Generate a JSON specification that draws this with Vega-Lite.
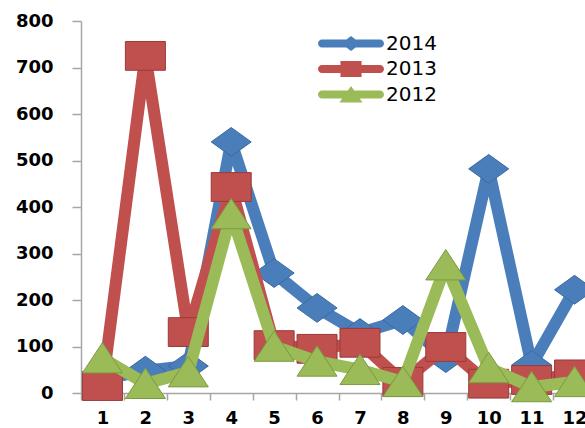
{
  "$schema": "https://vega.github.io/schema/vega-lite/v6.json",
  "width": 504,
  "height": 372,
  "autosize": "none",
  "padding": {"left": 81, "top": 21, "right": 0, "bottom": 35},
  "background": "white",
  "config": {"view": {"stroke": null}, "font": "DejaVu Sans"},
  "data": {
    "values": [
      {"month": 1, "year": "2014", "value": 30},
      {"month": 2, "year": "2014", "value": 48},
      {"month": 3, "year": "2014", "value": 58},
      {"month": 4, "year": "2014", "value": 540},
      {"month": 5, "year": "2014", "value": 258},
      {"month": 6, "year": "2014", "value": 183},
      {"month": 7, "year": "2014", "value": 129},
      {"month": 8, "year": "2014", "value": 157},
      {"month": 9, "year": "2014", "value": 75},
      {"month": 10, "year": "2014", "value": 482},
      {"month": 11, "year": "2014", "value": 60},
      {"month": 12, "year": "2014", "value": 222},
      {"month": 1, "year": "2013", "value": 15},
      {"month": 2, "year": "2013", "value": 725},
      {"month": 3, "year": "2013", "value": 131},
      {"month": 4, "year": "2013", "value": 443},
      {"month": 5, "year": "2013", "value": 103},
      {"month": 6, "year": "2013", "value": 95},
      {"month": 7, "year": "2013", "value": 108},
      {"month": 8, "year": "2013", "value": 24},
      {"month": 9, "year": "2013", "value": 99},
      {"month": 10, "year": "2013", "value": 20},
      {"month": 11, "year": "2013", "value": 28},
      {"month": 12, "year": "2013", "value": 40},
      {"month": 1, "year": "2012", "value": 75},
      {"month": 2, "year": "2012", "value": 20},
      {"month": 3, "year": "2012", "value": 45},
      {"month": 4, "year": "2012", "value": 385},
      {"month": 5, "year": "2012", "value": 100},
      {"month": 6, "year": "2012", "value": 68},
      {"month": 7, "year": "2012", "value": 50},
      {"month": 8, "year": "2012", "value": 24},
      {"month": 9, "year": "2012", "value": 275},
      {"month": 10, "year": "2012", "value": 54},
      {"month": 11, "year": "2012", "value": 13},
      {"month": 12, "year": "2012", "value": 24}
    ]
  },
  "encoding": {
    "x": {
      "field": "month",
      "type": "ordinal",
      "scale": {"range": [0, 515], "paddingInner": 0, "paddingOuter": 0},
      "axis": {
        "title": null,
        "labelAngle": 0,
        "tickBand": "extent",
        "tickSize": 7,
        "labelPadding": 9,
        "labelFontSize": 18,
        "labelFontWeight": "bold",
        "labelColor": "black",
        "domainColor": "#a6a6a6",
        "tickColor": "#a6a6a6",
        "domainWidth": 1.5,
        "tickWidth": 1.5
      }
    },
    "y": {
      "field": "value",
      "type": "quantitative",
      "scale": {"domain": [0, 800]},
      "axis": {
        "title": null,
        "values": [0, 100, 200, 300, 400, 500, 600, 700, 800],
        "grid": false,
        "tickSize": 9,
        "labelPadding": 19,
        "labelFontSize": 18,
        "labelFontWeight": "bold",
        "labelColor": "black",
        "domainColor": "#a6a6a6",
        "tickColor": "#a6a6a6",
        "domainWidth": 1.5,
        "tickWidth": 1.5
      }
    },
    "color": {
      "field": "year",
      "type": "nominal",
      "sort": ["2014", "2013", "2012"],
      "scale": {"domain": ["2014", "2013", "2012"], "range": ["#4A7EBB", "#C0504D", "#9BBB59"]},
      "legend": {
        "orient": "none",
        "legendX": 237,
        "legendY": 10,
        "title": null,
        "labelFont": "DejaVu Sans",
        "labelFontSize": 20,
        "labelColor": "black",
        "symbolSize": 4356,
        "clipHeight": 25,
        "rowPadding": 0.5,
        "labelOffset": 2,
        "symbolStrokeWidth": 0,
        "encode": {
          "symbols": {
            "update": {
              "shape": {"signal": "datum.value === '2014' ? 'M-0.88,-0.12L0.88,-0.12A0.12,0.12 0 0 1 0.88,0.12L-0.88,0.12A0.12,0.12 0 0 1 -0.88,-0.12Z M-0.3,0L0,-0.23L0.3,0L0,0.23Z' : datum.value === '2013' ? 'M-0.88,-0.12L0.88,-0.12A0.12,0.12 0 0 1 0.88,0.12L-0.88,0.12A0.12,0.12 0 0 1 -0.88,-0.12Z M-0.32,-0.24L0.32,-0.24L0.32,0.24L-0.32,0.24Z' : 'M-0.88,-0.12L0.88,-0.12A0.12,0.12 0 0 1 0.88,0.12L-0.88,0.12A0.12,0.12 0 0 1 -0.88,-0.12Z M0,-0.26L0.35,0.24L-0.35,0.24Z'"}
            }
          }
        }
      }
    }
  },
  "layer": [
    {
      "transform": [{"filter": "datum.year === '2014'"}],
      "mark": {"type": "line", "strokeWidth": 12, "strokeJoin": "round", "strokeCap": "round"}
    },
    {
      "transform": [{"filter": "datum.year === '2014'"}],
      "mark": {"type": "point", "shape": "M-1,0L0,-0.72L1,0L0,0.72Z", "filled": true, "opacity": 1, "size": 1600, "stroke": "#3a6aa0", "strokeWidth": 1}
    },
    {
      "transform": [{"filter": "datum.year === '2013'"}],
      "mark": {"type": "line", "strokeWidth": 12, "strokeJoin": "round", "strokeCap": "round"}
    },
    {
      "transform": [{"filter": "datum.year === '2013'"}],
      "mark": {"type": "point", "shape": "M-1,-0.72L1,-0.72L1,0.72L-1,0.72Z", "filled": true, "opacity": 1, "size": 1600, "stroke": "#9a3a38", "strokeWidth": 1}
    },
    {
      "transform": [{"filter": "datum.year === '2012'"}],
      "mark": {"type": "line", "strokeWidth": 12, "strokeJoin": "round", "strokeCap": "round"}
    },
    {
      "transform": [{"filter": "datum.year === '2012'"}],
      "mark": {"type": "point", "shape": "M0,-0.78L1,0.74L-1,0.74Z", "filled": true, "opacity": 1, "size": 1600, "stroke": "#7a9a40", "strokeWidth": 1}
    }
  ]
}
